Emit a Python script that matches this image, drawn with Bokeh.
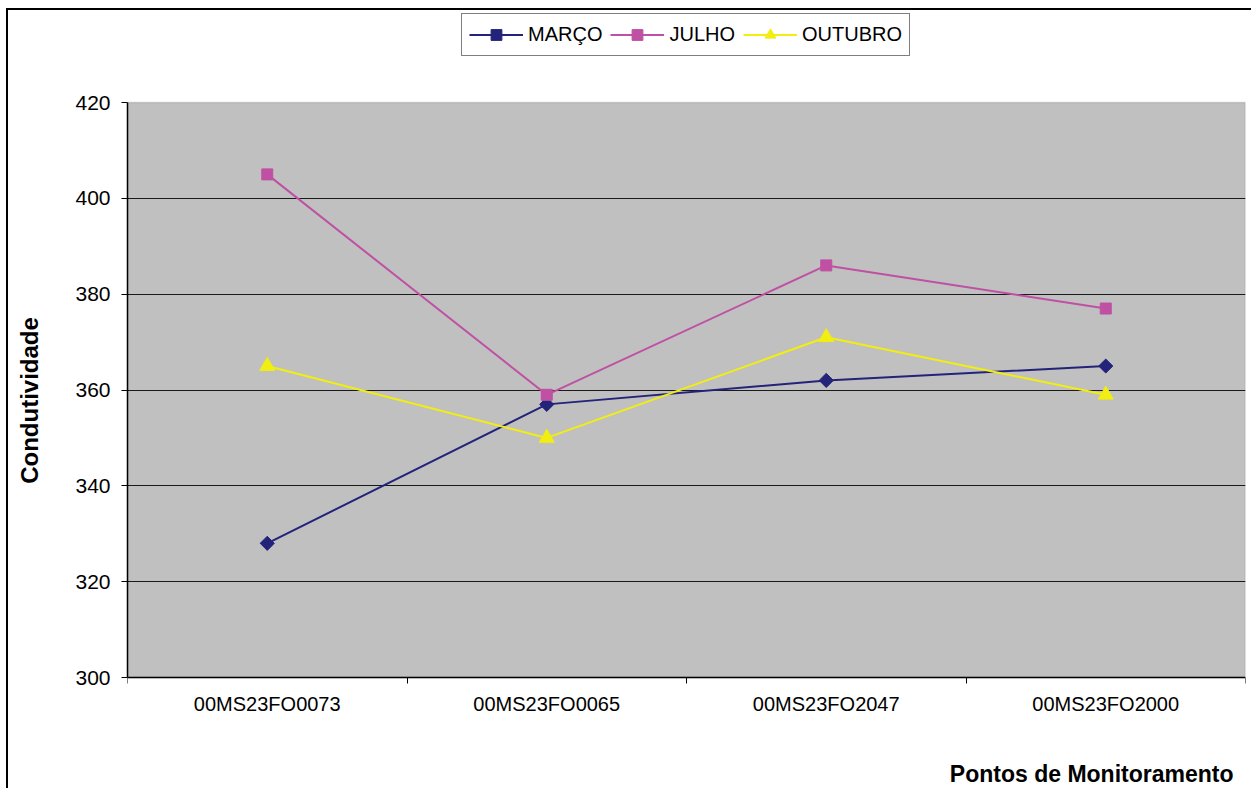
import math
from bokeh.plotting import figure
from bokeh.models import FixedTicker, Range1d, Legend, LegendItem, BoxAnnotation, Label
from bokeh.embed import file_html
from bokeh.resources import INLINE

# Monitoring points and conductivity readings per campaign
pontos = ["00MS23FO0073", "00MS23FO0065", "00MS23FO2047", "00MS23FO2000"]
marco = [328, 357, 362, 365]
julho = [405, 359, 386, 377]
outubro = [365, 350, 371, 359]
y_ticks = [300, 320, 340, 360, 380, 400, 420]

FONT = "Liberation Sans"
xs = [i + 0.5 for i in range(len(pontos))]
y_lo, y_hi = y_ticks[0], y_ticks[-1]
span = y_hi - y_lo

# canvas geometry (px): legend band on top, plot area, axis band below
CANVAS_W, CANVAS_H = 1245, 780
TOP_BAND, PLOT_H = 92, 575
BOTTOM_BAND = CANVAS_H - TOP_BAND - PLOT_H
px = span / PLOT_H  # data units per pixel
y_bottom = y_lo - BOTTOM_BAND * px
y_top = y_hi + TOP_BAND * px

# canvas sits 8px right / 10px down, framed on its top and left edges
p = figure(width=CANVAS_W, height=CANVAS_H, output_backend="svg",
           toolbar_location=None,
           x_range=Range1d(0, len(pontos)), y_range=Range1d(y_bottom, y_top),
           min_border_left=119, min_border_right=8, min_border_top=0,
           min_border_bottom=0)
p.styles = {"margin-left": "6px", "margin-top": "8px",
            "border-left": "2px solid black", "border-top": "2px solid black"}
p.background_fill_color = "white"
p.border_fill_color = "white"
p.outline_line_color = None

# grey plot area
p.add_layout(BoxAnnotation(left=0, right=len(pontos), bottom=y_lo, top=y_hi,
                           fill_color="#C0C0C0", fill_alpha=1,
                           line_color="#808080", line_width=1.5, level="image"))

# x axis pinned at the bottom of the plot area: labels at category centres,
# ticks at category boundaries
xa = p.xaxis[0]
xa.fixed_location = y_lo
xa.ticker = FixedTicker(ticks=xs, minor_ticks=list(range(len(pontos) + 1)))
xa.major_label_overrides = {x: name for x, name in zip(xs, pontos)}
xa.major_tick_line_color = None
xa.major_tick_out = 0
xa.major_tick_in = 0
xa.minor_tick_line_color = "black"
xa.minor_tick_out = 6
xa.minor_tick_in = 0
xa.axis_line_color = "black"
xa.axis_line_width = 1.5
xa.major_label_standoff = 9
xa.major_label_text_font = FONT
xa.major_label_text_font_size = "20px"
xa.major_label_text_color = "black"

ya = p.yaxis[0]
ya.bounds = (y_lo, y_hi)
ya.ticker = FixedTicker(ticks=y_ticks, minor_ticks=[])
ya.major_tick_out = 6
ya.major_tick_in = 0
ya.major_tick_line_color = "black"
ya.axis_line_color = "black"
ya.axis_line_width = 1.5
ya.major_label_standoff = 11
ya.major_label_text_font = FONT
ya.major_label_text_font_size = "21px"
ya.major_label_text_color = "black"
ya.axis_label = "Condutividade"
ya.axis_label_text_font = FONT
ya.axis_label_text_font_size = "24px"
ya.axis_label_text_font_style = "bold"
ya.axis_label_text_color = "black"
ya.axis_label_standoff = 29

p.xgrid.grid_line_color = None
p.ygrid.ticker = FixedTicker(ticks=y_ticks[1:-1], minor_ticks=[])
p.ygrid.grid_line_color = "#1a1a1a"
p.ygrid.grid_line_width = 1.2

# x-axis title, right-aligned under the category labels
p.add_layout(Label(x=len(pontos), y=y_lo - 96 * px, x_offset=-12,
                   text="Pontos de Monitoramento", text_align="right",
                   text_baseline="middle", text_font=FONT,
                   text_font_size="23px", text_font_style="bold",
                   text_color="black"))

series = [
    ("MARÇO", marco, "#23237A", "square", 10, math.pi / 4),
    ("JULHO", julho, "#BF50A3", "square", 11, 0),
    ("OUTUBRO", outubro, "#F2EE10", "triangle", 15, 0),
]
items = []
for name, vals, color, marker, size, ang in series:
    ln = p.line(xs, vals, line_color=color, line_width=2)
    pt = p.scatter(xs, vals, marker=marker, size=size, angle=ang,
                   fill_color=color, line_color=color)
    items.append(LegendItem(label=name, renderers=[ln, pt]))

legend = Legend(items=items, orientation="horizontal",
                location=(334, CANVAS_H - 46),
                glyph_width=54, glyph_height=27, label_standoff=5, spacing=8,
                padding=7, margin=0, border_line_color="black",
                border_line_width=1.2, background_fill_color="white",
                background_fill_alpha=1, label_text_font=FONT,
                label_text_font_size="20px", label_text_color="black")
p.add_layout(legend)

open("out.html", "w").write(file_html(p, INLINE))
